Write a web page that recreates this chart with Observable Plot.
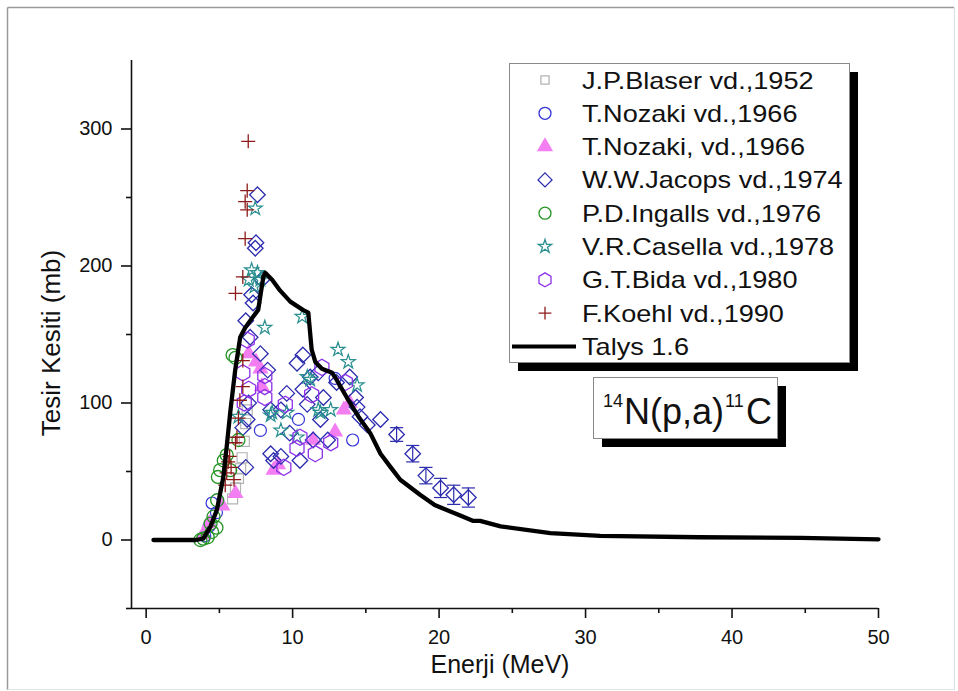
<!DOCTYPE html>
<html><head><meta charset="utf-8">
<script src="https://cdn.jsdelivr.net/npm/d3@7"></script>
<script src="https://cdn.jsdelivr.net/npm/@observablehq/plot@0.6"></script>
<style>html,body{margin:0;padding:0;background:#fff;} #chart{position:relative;width:958px;height:691px;}</style>
</head><body><div id="chart"></div>
<script>
// ---- data (Energy in MeV, cross section in mb) ----
const blaserE = [5.9, 6.1, 6.3, 6.45, 6.55, 6.7, 6.8, 6.9];
const blaserS = [30, 38, 45, 52, 60, 72, 85, 95];

const nozakiE = [4.0, 4.3, 4.5, 4.8, 7.8, 10.4, 12.9, 14.1];
const nozakiS = [3, 10, 27, 20, 80, 88, 118, 73];

const nozaki2E = [3.9, 4.3, 5.2, 6.1, 7.0, 7.5, 7.8, 7.9, 8.7, 9.0, 11.4, 12.9, 13.5, 13.9];
const nozaki2S = [4, 12, 25, 34, 136, 130, 125, 112, 51, 55, 73, 79, 95, 100];

const jacopsE = [6.6, 6.8, 6.9, 7.0, 6.8, 7.1, 7.2, 7.3, 7.5, 7.45, 7.6, 7.9, 7.8, 8.3, 8.5, 8.5, 8.7, 9.2, 9.2, 9.6, 9.8, 10.3, 10.5, 10.7, 10.7, 11.0, 11.2, 11.4, 11.75, 11.9, 12.1, 12.4, 13.0, 13.9, 14.3, 14.4, 14.6, 15.1, 16.0, 17.1, 18.2, 19.1, 20.1, 21.0, 22.0];
const jacopsS = [82, 53, 88, 100, 160, 148, 179, 173, 217, 213, 252, 190, 136, 124, 95, 63, 58, 95, 61, 107, 78, 129, 58, 135, 110, 99, 119, 73, 122, 88, 104, 73, 115, 119, 104, 97, 90, 84, 88, 77, 63, 47, 38, 33, 31];
const jacopsErr = [0, 0, 0, 0, 0, 0, 0, 0, 0, 0, 0, 0, 0, 0, 0, 0, 0, 0, 0, 0, 0, 0, 0, 0, 0, 0, 0, 0, 0, 0, 0, 0, 0, 0, 0, 0, 0, 0, 0, 5, 6, 6, 7, 7, 7];

const ingallsE = [3.7, 3.9, 4.2, 4.4, 4.5, 4.6, 4.8, 4.85, 4.9, 5.05, 5.3, 5.5, 5.74, 5.9, 6.1, 6.3];
const ingallsS = [0, 1, 2, 12, 6, 17, 9, 29, 46, 51, 58, 62, 51, 135, 133, 73];

const casellaE = [6.3, 7.0, 7.2, 7.4, 7.45, 7.6, 7.8, 8.1, 8.5, 8.6, 9.2, 9.6, 10.3, 10.65, 11.0, 11.2, 11.75, 11.9, 12.6, 13.1, 13.8, 14.4];
const casellaS = [90, 190, 197, 185, 242, 195, 190, 155, 91, 93, 80, 93, 75, 163, 119, 117, 95, 93, 95, 139, 130, 113];

const bidaE = [6.6, 6.7, 6.9, 7.0, 8.1, 8.1, 8.1, 9.5, 9.4, 10.3, 10.5, 11.3, 11.55, 12.0, 12.6, 13.6];
const bidaS = [122, 100, 146, 110, 120, 112, 104, 99, 53, 67, 75, 106, 63, 126, 71, 115];

const koehlE = [5.4, 5.5, 5.6, 5.7, 5.8, 6.0, 6.1, 6.2, 6.3, 6.4, 6.6, 6.6, 6.1, 6.6, 6.76, 6.76, 6.9, 6.9, 6.97];
const koehlS = [40, 49, 57, 61, 53, 44, 71, 75, 89, 102, 112, 131, 180, 192, 220, 247, 241, 255, 291];

const talysE = [0.5, 3.4, 3.9, 4.4, 4.83, 5.27, 5.5, 5.74, 6.08, 6.42, 6.76, 7.3, 7.65, 8.0, 8.13, 8.6, 9.15, 9.84, 10.7, 11.07, 11.3, 11.55, 12.0, 12.7, 13.0, 13.7, 14.5, 15.3, 16.0, 16.7, 17.35, 18.7, 19.7, 21.4, 22.3, 22.8, 24.2, 27.6, 31, 37.8, 44.7, 50];
const talysS = [0, 0, 1, 10, 22, 46, 68, 93, 124, 148, 155, 163, 168, 192, 195, 190, 182, 174, 168, 166, 139, 130, 125, 122, 117, 104, 90, 78, 63, 53, 44, 33, 25.5, 18, 14, 14, 10, 5, 3, 2, 1.5, 0.5];

const xTicks = [0, 10, 20, 30, 40, 50];
const xMinor = [5, 15, 25, 35, 45];
const yTicks = [0, 100, 200, 300];
const yMinor = [-50, 50, 150, 250];

const legendNames = ["J.P.Blaser vd.,1952", "T.Nozaki vd.,1966", "T.Nozaki, vd.,1966", "W.W.Jacops vd.,1974", "P.D.Ingalls vd.,1976", "V.R.Casella vd.,1978", "G.T.Bida vd.,1980", "F.Koehl vd.,1990", "Talys 1.6"];
const reactionLabel = ["14", "N(p,a)", "11", "C"];
const xTitle = "Enerji (MeV)";
const yTitle = "Tesir Kesiti (mb)";

// ---- build tables ----
const zip = (E, S, err) => E.map((e, i) => ({E: e, S: S[i], err: err ? err[i] : 0}));
const blaser = zip(blaserE, blaserS);
const nozaki = zip(nozakiE, nozakiS);
const nozaki2 = zip(nozaki2E, nozaki2S);
const jacops = zip(jacopsE, jacopsS, jacopsErr);
const jacopsWithErr = jacops.filter(d => d.err > 0);
const ingalls = zip(ingallsE, ingallsS);
const casella = zip(casellaE, casellaS);
const bida = zip(bidaE, bidaS);
const koehl = zip(koehlE, koehlS);
const talys = zip(talysE, talysS);

const C = {
  blaser: "#b4b4b4", nozaki: "#3434d8", nozaki2: "#f27ef2", jacops: "#2c2cae",
  ingalls: "#259425", casella: "#2a8f8f", bida: "#8c32e8", koehl: "#8e1b1b"
};
const FONT = "'Liberation Sans', Arial, Helvetica, sans-serif";

const plot = Plot.plot({
  width: 958, height: 691,
  marginLeft: 131, marginRight: 80, marginTop: 60, marginBottom: 83,
  style: {fontFamily: FONT, background: "white", color: "#111", overflow: "visible"},
  x: {domain: [-1, 50]},
  y: {domain: [-50, 350]},
  marks: [
    Plot.axisX({ticks: xTicks, tickSize: 10, tickPadding: 11, fontSize: 20, label: null, strokeWidth: 1.6}),
    Plot.axisX({ticks: xMinor, tickSize: 5, tickFormat: () => "", label: null, strokeWidth: 1.6}),
    Plot.axisY({ticks: yTicks, tickSize: 10, tickPadding: 9, fontSize: 20, label: null, strokeWidth: 1.6}),
    Plot.axisY({ticks: yMinor, tickSize: 5, tickFormat: () => "", label: null, strokeWidth: 1.6}),
    Plot.ruleX([-1], {stroke: "#111", strokeWidth: 1.6}),
    Plot.ruleY([-50], {stroke: "#111", strokeWidth: 1.6}),
    // error bars
    Plot.ruleX(jacopsWithErr, {x: "E", y1: d => d.S - d.err, y2: d => d.S + d.err, stroke: C.jacops, strokeWidth: 1.2}),
    Plot.link(jacopsWithErr, {x1: d => d.E - 0.45, x2: d => d.E + 0.45, y1: d => d.S + d.err, y2: d => d.S + d.err, stroke: C.jacops, strokeWidth: 1.2}),
    Plot.link(jacopsWithErr, {x1: d => d.E - 0.45, x2: d => d.E + 0.45, y1: d => d.S - d.err, y2: d => d.S - d.err, stroke: C.jacops, strokeWidth: 1.2}),
    Plot.dot(blaser, {x: "E", y: "S", symbol: "square2", r: 6.4, stroke: C.blaser, strokeWidth: 1.2}),
    Plot.dot(nozaki, {x: "E", y: "S", symbol: "circle", r: 6, fill: "none", stroke: C.nozaki, strokeWidth: 1.2}),
    Plot.dot(nozaki2, {x: "E", y: "S", symbol: "triangle", r: 6, fill: C.nozaki2, stroke: "none"}),
    Plot.dot(jacops, {x: "E", y: "S", symbol: "diamond2", r: 7, stroke: C.jacops, strokeWidth: 1.3}),
    Plot.dot(ingalls, {x: "E", y: "S", symbol: "circle", r: 6.5, fill: "none", stroke: C.ingalls, strokeWidth: 1.3}),
    Plot.dot(casella, {x: "E", y: "S", symbol: "star", r: 4.4, fill: "none", stroke: C.casella, strokeWidth: 1.2}),
    Plot.dot(bida, {x: "E", y: "S", symbol: "hexagon", r: 7, fill: "none", stroke: C.bida, strokeWidth: 1.3}),
    Plot.dot(koehl, {x: "E", y: "S", symbol: "plus", r: 4.6, stroke: C.koehl, strokeWidth: 1.3}),
    Plot.line(talys, {x: "E", y: "S", stroke: "#000", strokeWidth: 4.3, strokeLinejoin: "round"})
  ]
});

document.getElementById("chart").appendChild(plot);
const svg = d3.select(plot);

// outer frame
svg.append("line").attr("x1", 7.5).attr("y1", 7.5).attr("x2", 954).attr("y2", 7.5).attr("stroke", "#9a9a9a").attr("stroke-width", 1.5);
svg.append("line").attr("x1", 7.5).attr("y1", 7.5).attr("x2", 7.5).attr("y2", 690).attr("stroke", "#9a9a9a").attr("stroke-width", 1.5);
svg.append("line").attr("x1", 954.5).attr("y1", 7.5).attr("x2", 954.5).attr("y2", 690).attr("stroke", "#dddddd").attr("stroke-width", 1);
svg.append("line").attr("x1", 7.5).attr("y1", 689.5).attr("x2", 954).attr("y2", 689.5).attr("stroke", "#e4e4e4").attr("stroke-width", 1);

// axis titles
svg.append("text").attr("x", 500).attr("y", 673).attr("text-anchor", "middle")
  .attr("font-family", FONT).attr("font-size", 25).attr("fill", "#111").text(xTitle);
svg.append("text").attr("transform", "translate(60,343) rotate(-90)").attr("text-anchor", "middle")
  .attr("font-family", FONT).attr("font-size", 26).attr("fill", "#111").text(yTitle);

// legend
const lg = svg.append("g").attr("text-anchor", "start");
lg.append("rect").attr("x", 518).attr("y", 72).attr("width", 340).attr("height", 299).attr("fill", "#000");
lg.append("rect").attr("x", 509.5).attr("y", 63.5).attr("width", 340).attr("height", 299).attr("fill", "#fff").attr("stroke", "#8a8a8a").attr("stroke-width", 1);
const hexPath = (r) => { const ry = r * 2 / Math.sqrt(3), hy = ry / 2; return `M0,${ry}L${r},${hy}L${r},${-hy}L0,${-ry}L${-r},${-hy}L${-r},${hy}Z`; };
const sym = (type, r) => d3.symbol(type, Math.PI * r * r)();
const legendSymbols = [
  {d: sym(d3.symbolSquare2, 5.2), stroke: C.blaser, fill: "none"},
  {d: sym(d3.symbolCircle, 6), stroke: C.nozaki, fill: "none"},
  {d: sym(d3.symbolTriangle, 6), stroke: "none", fill: C.nozaki2},
  {d: sym(d3.symbolDiamond2, 6.3), stroke: C.jacops, fill: "none"},
  {d: sym(d3.symbolCircle, 6), stroke: C.ingalls, fill: "none"},
  {d: sym(d3.symbolStar, 4.2), stroke: C.casella, fill: "none"},
  {d: hexPath(6), stroke: C.bida, fill: "none"},
  {d: sym(d3.symbolPlus, 4.2), stroke: C.koehl, fill: "none"}
];
legendNames.forEach((name, i) => {
  const cy = 80 + i * 33.3;
  if (i < legendSymbols.length) {
    const s = legendSymbols[i];
    lg.append("path").attr("d", s.d).attr("transform", `translate(545,${cy})`)
      .attr("fill", s.fill).attr("stroke", s.stroke).attr("stroke-width", 1.3);
  } else {
    lg.append("line").attr("x1", 512).attr("x2", 576).attr("y1", cy).attr("y2", cy).attr("stroke", "#000").attr("stroke-width", 4);
  }
  lg.append("text").attr("transform", `translate(582,${cy + 8.5}) scale(1.13,1)`).attr("text-anchor", "start")
    .attr("font-family", FONT).attr("font-size", 24).attr("fill", "#111").text(name);
});

// reaction label box
const rb = svg.append("g").attr("text-anchor", "start");
rb.append("rect").attr("x", 602).attr("y", 386).attr("width", 184).attr("height", 61).attr("fill", "#000");
rb.append("rect").attr("x", 593.5).attr("y", 377.5).attr("width", 184).attr("height", 61).attr("fill", "#fff").attr("stroke", "#8a8a8a").attr("stroke-width", 1);
rb.append("text").attr("x", 603).attr("y", 407).attr("text-anchor", "start").attr("font-family", FONT).attr("font-size", 18).attr("fill", "#111").text(reactionLabel[0]);
rb.append("text").attr("x", 624).attr("y", 424).attr("text-anchor", "start").attr("font-family", FONT).attr("font-size", 36).attr("fill", "#111").text(reactionLabel[1]);
rb.append("text").attr("x", 725).attr("y", 407).attr("text-anchor", "start").attr("font-family", FONT).attr("font-size", 18).attr("fill", "#111").text(reactionLabel[2]);
rb.append("text").attr("x", 746).attr("y", 424).attr("text-anchor", "start").attr("font-family", FONT).attr("font-size", 36).attr("fill", "#111").text(reactionLabel[3]);
</script>
</body></html>
